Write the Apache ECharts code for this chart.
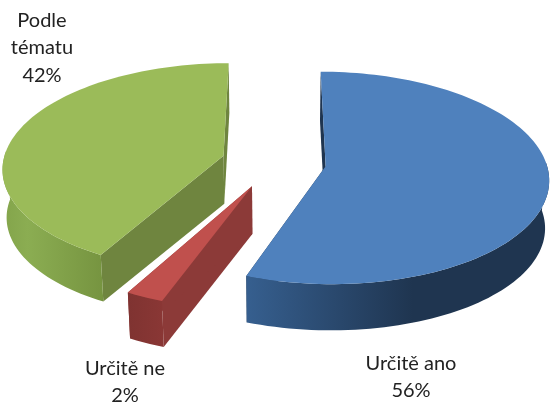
<!DOCTYPE html>
<html>
<head>
<meta charset="utf-8">
<style>
  html, body { margin: 0; padding: 0; background: #fff; }
  #chart { width: 550px; height: 403px; }
</style>
<script src="https://cdn.jsdelivr.net/npm/echarts@6/dist/echarts.min.js"></script>
</head>
<body>
<div id="chart"></div>
<script>
var categories = ["Určitě ano", "Určitě ne", "Podle tématu"];
// labels in the picture are rounded, these are read from the slice edges
var values = [55.6, 2.45, 41.95];
var labelLines = ["Určitě ano", "Určitě ne", "Podle\ntématu"];

var topColors = ["#4f81bd", "#c0504d", "#9bbb59"];
var wallColors = ["#1f3550", "#8c3a38", "#6f853f"];
var outerStops = [
  [[0, "#365f8f"], [0.55, "#1f3550"], [1, "#1f3550"]],
  [[0, "#7f3331"], [1, "#8a3735"]],
  [[0, "#83a44b"], [0.25, "#8bad52"], [1, "#769440"]]
];
var labelPos = [[411, 377], [125, 382], [42, 48]];
var explode = [0.23, 0.25, 0.245];

// pseudo 3D layout, the library has no 3D pie without GL
var cx = 275.5, cy = 162, rx = 220.5, ry = 104;
var persp = 0.11, depth = 48, bottomScale = 0.985;

var total = values.reduce(function (a, b) { return a + b; }, 0);

function project(u, v, bottom) {
  var s = 1 / (1 + persp * v);
  if (bottom) {
    return [cx + rx * u * s * bottomScale, cy - ry * v * s * bottomScale + depth];
  }
  return [cx + rx * u * s, cy - ry * v * s];
}

function renderSlice(params, api) {
  var i = params.dataIndex;
  var before = 0;
  for (var k = 0; k < i; k++) before += values[k];
  var a0 = before / total * Math.PI * 2;
  var a1 = (before + api.value(0)) / total * Math.PI * 2;
  var mid = (a0 + a1) / 2;
  var ou = explode[i] * Math.sin(mid), ov = explode[i] * Math.cos(mid);

  function pt(a, r, bottom) {
    return project(ou + r * Math.sin(a), ov + r * Math.cos(a), bottom);
  }

  var arcTop = [], frontTop = [], frontBottom = [];
  var steps = Math.max(2, Math.round((a1 - a0) / 0.03));
  for (var n = 0; n <= steps; n++) {
    var a = a0 + (a1 - a0) * n / steps;
    arcTop.push(pt(a, 1, false));
    // rim behind the widest point is hidden under the top face
    if (Math.cos(a) <= 0.05) {
      frontTop.push(pt(a, 1, false));
      frontBottom.push(pt(a, 1, true));
    }
  }

  function cutWall(a) {
    return {
      type: "polygon",
      shape: { points: [pt(a, 0, false), pt(a, 1, false), pt(a, 1, true), pt(a, 0, true)] },
      style: { fill: wallColors[i] }
    };
  }

  return {
    type: "group",
    children: [
      cutWall(a0),
      cutWall(a1),
      {
        type: "polygon",
        shape: { points: frontTop.concat(frontBottom.reverse()) },
        style: {
          fill: new echarts.graphic.LinearGradient(0, 0, 1, 0, outerStops[i].map(function (s) {
            return { offset: s[0], color: s[1] };
          }))
        }
      },
      {
        type: "polygon",
        shape: { points: [pt(a0, 0, false)].concat(arcTop) },
        style: { fill: topColors[i] }
      },
      {
        type: "text",
        style: {
          x: labelPos[i][0],
          y: labelPos[i][1],
          text: labelLines[i] + "\n" + Math.round(api.value(0)) + "%",
          fill: "#222222",
          font: "20px Lato",
          lineHeight: 27.5,
          align: "center",
          verticalAlign: "middle"
        }
      }
    ]
  };
}

var chart = echarts.init(document.getElementById("chart"), null, { renderer: "canvas" });

chart.setOption({
  animation: false,
  backgroundColor: "#ffffff",
  series: [
    {
      type: "custom",
      coordinateSystem: "none",
      silent: true,
      renderItem: renderSlice,
      data: values.map(function (v, i) { return { name: categories[i], value: [v] }; })
    }
  ]
});
</script>
</body>
</html>
